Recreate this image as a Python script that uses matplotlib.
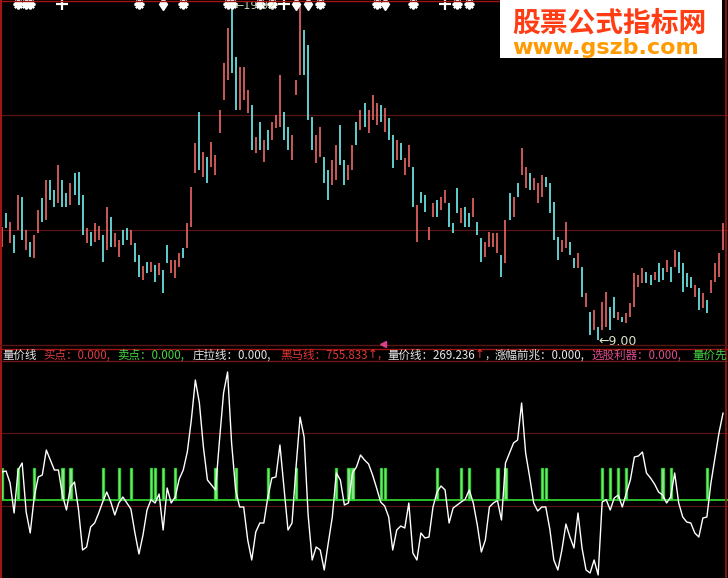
import matplotlib
matplotlib.use("Agg")
import matplotlib.pyplot as plt
from matplotlib.lines import Line2D
from matplotlib.patches import Rectangle
import numpy as np

# daily bars (open / close)
opens = [
    12.02, 13.12, 12.15, 12.41, 12.57, 13.64, 11.92, 12.18, 11.66, 12.47,
    13.61, 12.89, 14.19, 13.86, 13.44, 14.19, 13.77, 13.38, 14.41, 14.45,
    13.70, 12.15, 12.50, 12.18, 12.24, 12.41, 11.92, 12.99, 12.02, 11.69,
    12.57, 12.63, 12.08, 12.15, 11.76, 10.95, 11.53, 11.21, 11.43, 11.11,
    11.27, 12.08, 11.17, 11.01, 11.37, 11.98, 11.98, 12.66, 14.41, 16.39,
    14.29, 14.93, 14.61, 14.35, 15.71, 16.78, 17.43, 19.92, 18.17, 16.45,
    16.78, 16.36, 16.62, 15.06, 16.07, 14.77, 15.81, 15.48, 15.87, 15.90,
    16.39, 15.90, 14.83, 16.94, 17.59, 19.05, 18.56, 16.23, 14.74, 14.93,
    14.93, 14.51, 14.03, 14.19, 15.97, 14.83, 14.19, 14.51, 16.07, 15.81,
    16.68, 15.71, 16.13, 15.97, 16.62, 15.74, 16.20, 15.64, 14.83, 15.38,
    14.35, 14.61, 14.61, 12.18, 13.80, 13.70, 12.24, 12.99, 13.54, 13.22,
    13.44, 13.44, 12.79, 13.93, 12.79, 13.31, 13.12, 12.99, 12.83, 12.31,
    11.69, 12.02, 12.02, 11.82, 11.76, 11.50, 13.77, 12.99, 14.09, 14.35,
    13.93, 14.41, 13.86, 13.44, 13.64, 14.29, 14.09, 13.48, 12.34, 11.85,
    11.98, 12.18, 11.66, 11.34, 11.37, 10.07, 9.91, 9.33, 9.43, 9.33,
    9.43, 10.07, 10.40, 9.65, 9.75, 9.55, 9.75, 10.07, 10.72, 10.85,
    11.21, 11.11, 10.95, 11.50, 11.34, 11.21, 11.37, 11.37, 11.85, 11.50,
    11.17, 11.05, 10.40, 10.69, 10.04, 10.30, 10.53, 10.88, 11.05, 11.92,
]
closes = [
    12.66, 12.63, 12.83, 11.82, 13.70, 12.24, 12.57, 11.69, 12.41, 13.22,
    12.83, 14.19, 13.54, 13.31, 14.67, 13.31, 13.31, 14.09, 13.70, 13.38,
    12.41, 12.63, 12.05, 12.79, 12.70, 11.53, 13.31, 12.02, 12.47, 12.24,
    12.08, 12.24, 12.57, 11.53, 11.05, 11.40, 11.17, 11.53, 10.88, 11.50,
    10.53, 11.50, 11.60, 11.60, 11.82, 11.66, 12.79, 13.96, 15.38, 14.51,
    15.09, 14.09, 15.42, 15.00, 16.45, 17.98, 19.11, 17.65, 16.45, 17.85,
    17.85, 17.10, 15.16, 15.58, 15.16, 15.48, 15.16, 16.07, 16.29, 17.59,
    15.48, 15.16, 15.64, 17.43, 19.86, 17.59, 16.13, 15.16, 15.64, 15.90,
    14.09, 13.54, 14.83, 15.32, 14.67, 14.03, 14.67, 15.32, 15.32, 16.45,
    15.90, 16.45, 16.94, 16.68, 16.07, 16.52, 15.48, 14.58, 15.48, 14.83,
    14.90, 15.32, 13.31, 13.38, 13.44, 13.15, 12.66, 13.44, 12.99, 13.64,
    13.86, 12.66, 12.47, 13.12, 13.28, 12.66, 12.66, 13.61, 12.41, 11.53,
    12.18, 12.50, 12.47, 12.47, 11.05, 12.89, 12.89, 13.64, 13.64, 15.22,
    14.61, 13.86, 14.25, 14.09, 14.35, 13.96, 13.12, 12.24, 11.60, 12.24,
    12.83, 11.76, 11.34, 11.82, 10.40, 10.53, 9.17, 9.98, 9.00, 10.23,
    10.56, 9.33, 9.72, 9.91, 9.59, 9.88, 10.20, 11.17, 11.11, 11.34,
    10.85, 10.79, 11.21, 10.88, 10.95, 11.60, 10.88, 11.92, 11.17, 10.56,
    10.72, 10.69, 10.79, 9.98, 10.53, 9.88, 10.95, 11.50, 11.82, 12.79,
]

# 量价线 indicator (lower panel)
liangjia = [
    86.8, 89.9, 52.7, -40.3, 93.0, 114.7, -37.2, -102.3, 9.3, 71.3,
    77.5, 155.0, 124.0, 93.0, 93.0, 15.5, -31.0, 40.3, 55.8, -31.0,
    -155.0, -145.7, -83.7, -71.3, -40.3, -6.2, 24.8, -6.2, -46.5, -9.3,
    9.3, -9.3, -27.9, -102.3, -167.4, -108.5, -31.0, 1.2, -9.3, 18.6,
    -93.0, 37.2, -9.3, 9.3, 65.1, 93.0, 148.8, 248.0, 372.0, 300.7,
    164.3, 62.0, 46.5, 31.0, 186.0, 331.7, 396.8, 176.7, 31.0, -21.7,
    -21.7, -124.0, -186.0, -99.2, -71.3, -71.3, 9.3, 68.2, 71.3, 170.5,
    40.3, -93.0, -71.3, 102.3, 257.3, 195.3, -46.5, -186.0, -145.7, -155.0,
    -217.0, -133.3, -52.7, 83.7, 62.0, -15.5, -9.3, 83.7, 102.3, 139.5,
    124.0, 111.6, 77.5, 37.2, -6.2, -18.6, -52.7, -155.0, -93.0, -80.6,
    -86.8, -9.3, -164.3, -186.0, -102.3, -117.8, -114.7, -21.7, 24.8, 43.4,
    31.0, -71.3, -24.8, -15.5, -6.2, 2.5, 31.0, -9.3, -77.5, -161.2,
    -124.0, -21.7, -9.3, -1.5, -62.0, 114.7, 145.7, 176.7, 186.0, 300.7,
    145.7, 71.3, -9.3, -34.1, -21.7, -21.7, -89.9, -186.0, -217.0, -155.0,
    -74.4, -114.7, -148.8, -40.3, -148.8, -217.0, -226.3, -186.0, -232.5, -6.2,
    1.0, -31.0, 6.2, 15.5, -21.7, 21.7, 62.0, 133.3, 136.4, 148.8,
    83.7, 68.2, 49.6, 24.8, 15.5, -9.3, 9.3, 83.7, -9.3, -52.7,
    -68.2, -71.3, -102.3, -114.7, -55.8, -52.7, 52.7, 130.2, 207.7, 269.24,
]

# bars where the green signal stick fires, and its height
signal_bars = [0, 4, 8, 15, 17, 25, 29, 32, 37, 38, 40, 43, 53, 58, 66, 73,
               83, 86, 87, 94, 95, 108, 114, 116, 123, 125, 134, 135, 149,
               151, 153, 155, 164, 166, 175]
signal_height = 100

# symbols along the top edge
star_bars = [4, 6, 7, 34, 45, 56, 57, 64, 67, 79, 93, 102, 113, 116]
plus_bars = [15, 70, 110]
dagger_bars = [40, 73, 76, 95]

# readout strip: (start pixel, [(text, colour, font), ...])
white_t = "#e6e6e6"
red_t = "#e53535"
green_t = "#44d444"
pink_t = "#dc4c8c"
label_groups = [
    (1, [("量价线", white_t, "cjk")]),
    (43, [("买点：0.000,", "#e03a44", "cjk")]),
    (117, [("卖点：0.000,", green_t, "cjk")]),
    (193, [("庄拉线：0.000,", white_t, "cjk")]),
    (280, [("黑马线：755.833", red_t, "cjk"), ("↑", red_t, "lat"),
           (",", red_t, "cjk")]),
    (387, [("量价线：269.236", white_t, "cjk"), ("↑", red_t, "lat"),
           (",", white_t, "cjk")]),
    (495, [("涨幅前兆：0.000,", white_t, "cjk")]),
    (592, [("选股利器：0.000,", pink_t, "cjk")]),
    (692, [("量价先", green_t, "cjk")]),
]

# colours
bg = "black"
up_color = "#e46464"
down_color = "#6ee6e6"
grid_color = "#5a1414"
frame_red = "#a01414"
cjk = ["Noto Sans CJK SC", "DejaVu Sans"]
fonts = {"cjk": cjk, "lat": ["DejaVu Sans"]}

W, H = 728, 578
fig = plt.figure(figsize=(W / 100, H / 100), dpi=100, facecolor=bg)


def fx(px):
    return px / W


def fy(py):
    return 1 - py / H


def fig_line(x0, y0, x1, y1, color, lw):
    fig.add_artist(Line2D([fx(x0), fx(x1)], [fy(y0), fy(y1)], color=color,
                          lw=lw, transform=fig.transFigure, zorder=5))


n = len(opens)
x = np.arange(n)
o = np.array(opens)
c = np.array(closes)
up = c >= o
xlim = (-0.5, 180.24)

# ---- price panel ----
ax = fig.add_axes([0, fy(345), 1, 345 / H])
ax.set_facecolor(bg)
ylo, yhi = 8.84, 20.02
ax.set_xlim(*xlim)
ax.set_ylim(ylo, yhi)
for k in (1, 2):
    ax.axhline(ylo + (yhi - ylo) * k / 3, color=grid_color, lw=0.9, zorder=1)
ax.vlines(x[up], o[up], c[up], color=up_color, lw=1.25, zorder=3)
ax.vlines(x[~up], c[~up], o[~up], color=down_color, lw=1.25, zorder=3)

tr = ax.get_xaxis_transform()
ytop = 1 - 4 / 345
ax.plot(star_bars, [ytop] * len(star_bars), ls="none", marker=(8, 2, 0),
        ms=7, mew=1.6, color="white", transform=tr, zorder=4, clip_on=False)
ax.plot(plus_bars, [ytop] * len(plus_bars), ls="none", marker="+",
        ms=8, mew=1.6, color="white", transform=tr, zorder=4, clip_on=False)
ax.plot(dagger_bars, [ytop] * len(dagger_bars), ls="none", marker="d",
        ms=6, color="white", transform=tr, zorder=4, clip_on=False)

hi_vals = np.maximum(o, c)
lo_vals = np.minimum(o, c)
i_hi = int(np.argmax(hi_vals))
i_lo = int(np.argmin(lo_vals))
ax.annotate(f"←{hi_vals[i_hi]:.2f}", xy=(i_hi, hi_vals[i_hi]), xytext=(2, -2),
            textcoords="offset points", va="center", ha="left",
            fontsize=8, color="#c8dcb8", zorder=5)
ax.annotate(f"←{lo_vals[i_lo]:.2f}", xy=(i_lo, lo_vals[i_lo]), xytext=(0, -1),
            textcoords="offset points", va="center", ha="left",
            fontsize=9, color="#d8e6c8", zorder=5)
ax.set_xticks([])
ax.set_yticks([])
for s in ax.spines.values():
    s.set_visible(False)

# ---- indicator panel ----
ax2 = fig.add_axes([0, 0, 1, (H - 361) / H])
ax2.set_facecolor(bg)
ax2.set_xlim(*xlim)
v_lo, v_hi = -241.8, 430.9
ax2.set_ylim(v_lo, v_hi)
for k in (1, 2):
    ax2.axhline(v_lo + (v_hi - v_lo) * k / 3, color=grid_color, lw=0.9, zorder=1)
ax2.bar(signal_bars, [signal_height] * len(signal_bars), width=0.55,
        facecolor="#96e696", edgecolor="#2ccf2c", lw=0.9, zorder=2)
ax2.axhline(0, color="#2ed12e", lw=1.3, zorder=2.5)
ax2.plot(x, liangjia, color="white", lw=1.0, zorder=3)
ax2.set_xticks([])
ax2.set_yticks([])
for s in ax2.spines.values():
    s.set_visible(False)

# ---- frame lines ----
fig_line(0, 0.5, 500, 0.5, frame_red, 1.0)
fig_line(1, 0, 1, H, frame_red, 1.5)
fig_line(726, 0, 726, H, frame_red, 1.2)
fig_line(0, 344.5, W, 344.5, grid_color, 1.0)
fig_line(0, 348.5, W, 348.5, frame_red, 1.0)
fig_line(0, 361, W, 361, "#701818", 1.0)
fig.add_artist(Line2D([fx(383)], [fy(344)], marker="<", ms=5, color="#d8408a",
                      ls="none", transform=fig.transFigure, zorder=6))

# ---- indicator readout strip (pieces chained so they never collide) ----
renderer = fig.canvas.get_renderer()
cursor = 0
for start, pieces in label_groups:
    px = max(start, cursor + 2)
    for txt, col, fam in pieces:
        t = fig.text(fx(px), fy(355), txt, color=col, fontsize=8.3,
                     family=fonts[fam], va="center", ha="left", zorder=6)
        px = t.get_window_extent(renderer).x1 + 0.3
    cursor = px

# ---- watermark ----
fig.add_artist(Rectangle((fx(500), fy(58)), 222 / W, 58 / H, facecolor="white",
                         edgecolor="none", transform=fig.transFigure, zorder=10))
fig.text(fx(609), fy(24), "股票公式指标网", color="#ff3c14", fontsize=20,
         fontweight="bold", family=cjk, ha="center", va="center", zorder=11)
fig.text(fx(606), fy(47.5), "www.gszb.com", color="#ff9a00", fontsize=16,
         fontweight="bold", family=["DejaVu Sans"], ha="center", va="center",
         zorder=11)

fig.savefig("out.png", dpi=100, facecolor=bg)
